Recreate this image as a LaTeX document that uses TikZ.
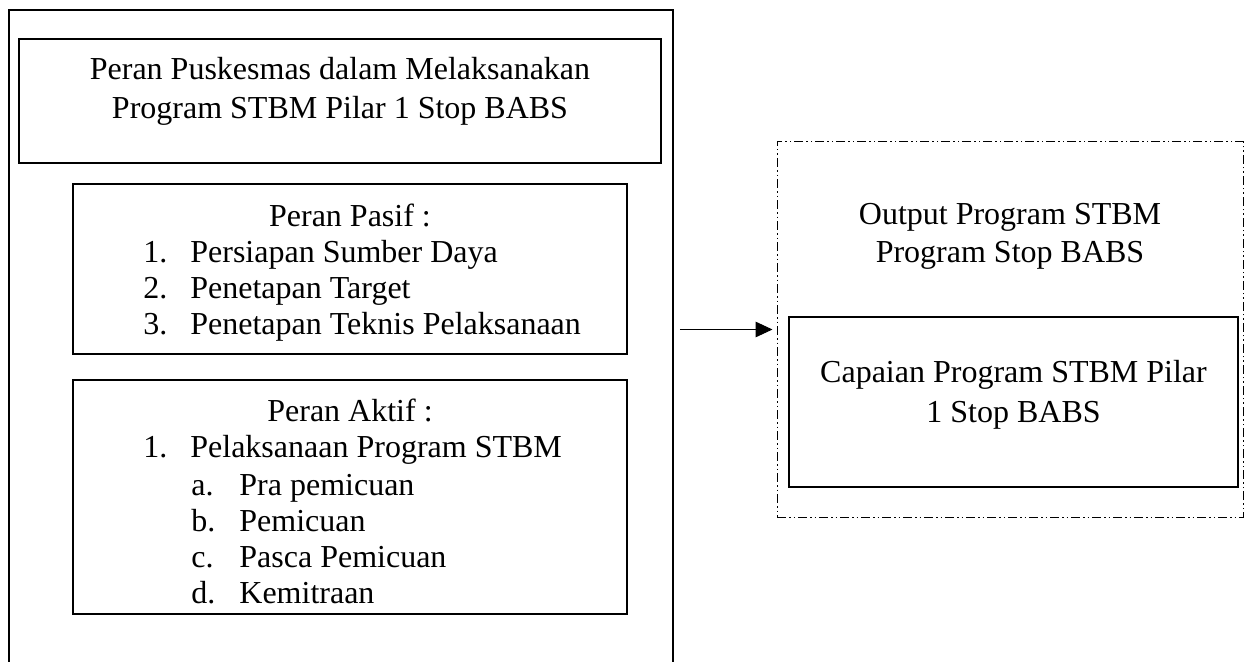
\documentclass[tikz,border=0pt]{standalone}
\usepackage{fontspec}
\setmainfont{Liberation Serif}
\usepackage{tikz}
\usetikzlibrary{arrows.meta,positioning,calc}
\newcommand{\lnum}[1]{\makebox[23.5pt][l]{#1}}
\newcommand{\lsub}[1]{\makebox[24pt][l]{#1}}
\tikzset{
  box/.style={draw, line width=0.85pt, rectangle, inner sep=0pt},
  ddbox/.style={draw, line width=0.5pt, rectangle, inner sep=0pt,
      dash pattern=on 4.5pt off 1.5pt on 0.75pt off 1.5pt on 0.75pt off 1.5pt},
  txt/.style={inner sep=0pt, anchor=base, font=\fontsize{16}{18}\selectfont},
  itm/.style={txt, anchor=base west},
  arr/.style={-{Triangle[length=8.5pt, width=7.8pt]}, line width=0.5pt,
      shorten <=3pt, shorten >=2pt},
}
\begin{document}
\begin{tikzpicture}[x=0.5pt, y=-0.5pt]
\useasboundingbox (0,0) rectangle (1251,662);
\clip (0,0) rectangle (1251,662);
% left column
\node[box, anchor=north, minimum width=332pt, minimum height=360pt] (peran) at (341,9) {};
\node[box, minimum width=321pt, minimum height=62pt] (judul) at (340,101) {};
\node[txt] (judul1) at (340,80) {Peran Puskesmas dalam Melaksanakan};
\node[txt] (judul2) at (340,119) {Program STBM Pilar 1 Stop BABS};
% peran pasif
\node[box, minimum width=277pt, minimum height=85pt] (pasif) at (350,269) {};
\node[txt] (pasif0) at (350,227) {Peran Pasif :};
\node[itm] (pasif1) at (143,263) {\lnum{1.}Persiapan Sumber Daya};
\node[itm] (pasif2) at (143,299) {\lnum{2.}Penetapan Target};
\node[itm] (pasif3) at (143,335) {\lnum{3.}Penetapan Teknis Pelaksanaan};
% peran aktif
\node[box, minimum width=277pt, minimum height=117pt] (aktif) at (350,497) {};
\node[txt] (aktif0) at (350,421) {Peran Aktif :};
\node[itm] (aktif1) at (143,457) {\lnum{1.}Pelaksanaan Program STBM};
\node[itm] (aktifa) at (191,495) {\lsub{a.}Pra pemicuan};
\node[itm] (aktifb) at (191,531) {\lsub{b.}Pemicuan};
\node[itm] (aktifc) at (191,567) {\lsub{c.}Pasca Pemicuan};
\node[itm] (aktifd) at (191,603) {\lsub{d.}Kemitraan};
% right column
\node[ddbox, minimum width=233pt, minimum height=187.5pt] (output) at (1010,329.5) {};
\node[txt] (output1) at (1010,225) {Output Program STBM};
\node[txt] (output2) at (1010,263) {Program Stop BABS};
\node[box, minimum width=224.5pt, minimum height=85pt] (capai) at (1013.5,402) {};
\node[txt] (capai1) at (1013.5,382) {Capaian Program STBM Pilar};
\node[txt] (capai2) at (1013.5,422) {1 Stop BABS};
\draw[arr] (peran.east |- output.west) -- (output.west);
\end{tikzpicture}
\end{document}
